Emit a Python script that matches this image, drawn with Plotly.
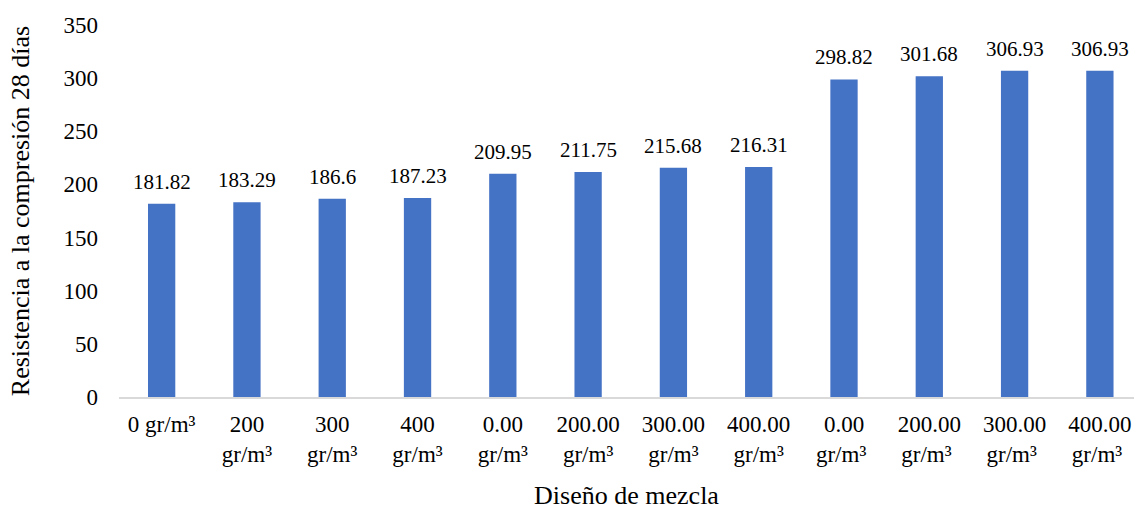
import plotly.graph_objects as go

categories = ["0 gr/m³", "200<br>gr/m³", "300<br>gr/m³", "400<br>gr/m³",
              "0.00<br>gr/m³", "200.00<br>gr/m³", "300.00<br>gr/m³", "400.00<br>gr/m³",
              "0.00<br>gr/m³ ", "200.00<br>gr/m³ ", "300.00<br>gr/m³ ", "400.00<br>gr/m³ "]
values = [181.82, 183.29, 186.6, 187.23, 209.95, 211.75, 215.68, 216.31,
          298.82, 301.68, 306.93, 306.93]
value_labels = ["181.82", "183.29", "186.6", "187.23", "209.95", "211.75", "215.68",
                "216.31", "298.82", "301.68", "306.93", "306.93"]
y_ticks = [0, 50, 100, 150, 200, 250, 300, 350]

FONT = "Times New Roman, Liberation Serif"
BAR = "#4472C4"
label_font = dict(family=FONT, size=21, color="#000000")
tick_font = dict(family=FONT, size=23, color="#000000")
title_font = dict(family=FONT, size=26, color="#000000")

fig = go.Figure(go.Bar(
    x=list(range(len(categories))), y=values, width=0.32,
    marker=dict(color=BAR, line=dict(width=0)),
))

for i, (v, t) in enumerate(zip(values, value_labels)):
    fig.add_annotation(x=i, y=v, text=t, showarrow=False, yanchor="bottom",
                       yshift=8, font=label_font)

fig.update_layout(
    width=1134, height=510,
    margin=dict(l=119, r=0, t=25, b=113),
    paper_bgcolor="white", plot_bgcolor="white",
    font=tick_font,
    showlegend=False,
    xaxis=dict(
        tickmode="array", tickvals=list(range(len(categories))), ticktext=categories,
        range=[-0.5, 11.4], showline=True, linecolor="#D9D9D9", linewidth=1.5,
        showgrid=False, zeroline=False, ticks="", tickangle=0, tickfont=tick_font,
        ticklabelstandoff=6,
        title=dict(text="Diseño de mezcla", standoff=20, font=title_font),
    ),
    yaxis=dict(
        range=[0, 350], tickmode="array", tickvals=y_ticks,
        showgrid=False, zeroline=False, showline=False, ticks="", tickfont=tick_font,
        ticklabelstandoff=20,
        title=dict(text="Resistencia a la compresión 28 días", standoff=26,
                   font=title_font),
    ),
)

fig.write_html("out.html")
